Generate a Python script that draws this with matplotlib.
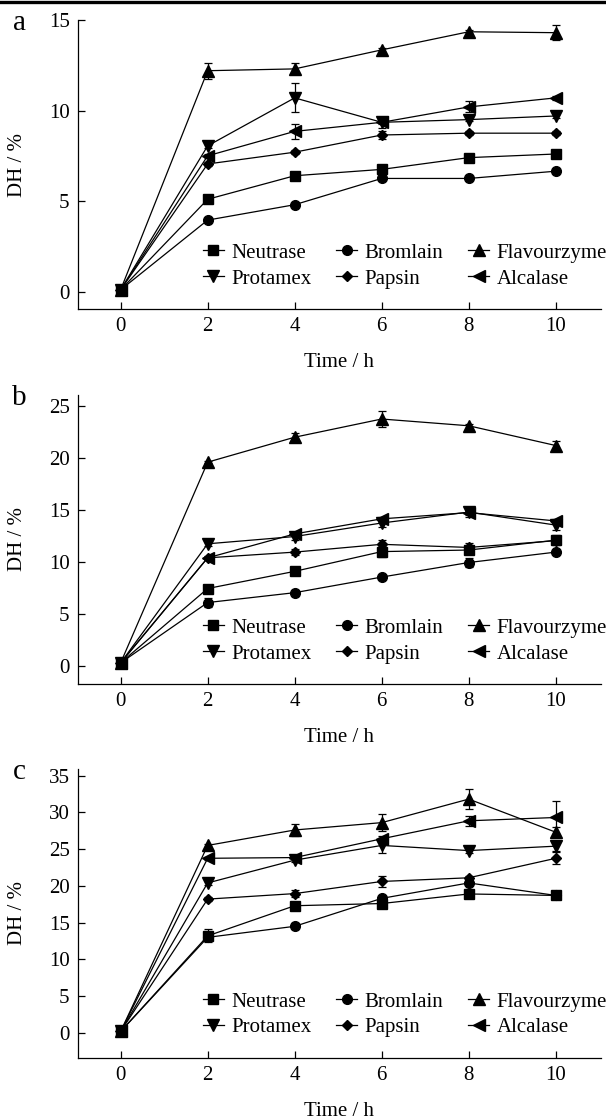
import matplotlib
matplotlib.use('Agg')
import matplotlib.pyplot as plt
from matplotlib.lines import Line2D

plt.rcParams['font.family'] = ['Liberation Serif', 'DejaVu Serif']

time = [0, 2, 4, 6, 8, 10]
enzymes = ['Neutrase', 'Bromlain', 'Flavourzyme', 'Protamex', 'Papsin', 'Alcalase']
markers = {'Neutrase': ('s', 6.5), 'Bromlain': ('o', 7), 'Flavourzyme': ('^', 8),
           'Protamex': ('v', 8), 'Papsin': ('D', 5.5), 'Alcalase': ('<', 8)}

# panel a
dh_a = {
    'Neutrase':    [0.1, 5.1, 6.4, 6.75, 7.4, 7.6],
    'Bromlain':    [0.1, 3.95, 4.8, 6.25, 6.25, 6.65],
    'Flavourzyme': [0.1, 12.2, 12.3, 13.35, 14.35, 14.3],
    'Protamex':    [0.1, 8.05, 10.7, 9.35, 9.5, 9.7],
    'Papsin':      [0.1, 7.05, 7.7, 8.65, 8.75, 8.75],
    'Alcalase':    [0.1, 7.5, 8.85, 9.35, 10.2, 10.7],
}
err_a = {
    'Neutrase':    [0, 0.1, 0.1, 0.1, 0.1, 0.1],
    'Bromlain':    [0, 0.1, 0.1, 0.1, 0.1, 0.1],
    'Flavourzyme': [0, 0.45, 0.3, 0.1, 0.1, 0.4],
    'Protamex':    [0, 0.1, 0.8, 0.3, 0.1, 0.1],
    'Papsin':      [0, 0.1, 0.1, 0.2, 0.1, 0.1],
    'Alcalase':    [0, 0.1, 0.4, 0.1, 0.3, 0.1],
}

# panel b
dh_b = {
    'Neutrase':    [0.3, 7.45, 9.1, 11.0, 11.15, 12.1],
    'Bromlain':    [0.3, 6.1, 7.05, 8.55, 9.95, 10.95],
    'Flavourzyme': [0.3, 19.6, 22.0, 23.75, 23.1, 21.2],
    'Protamex':    [0.3, 11.75, 12.45, 13.75, 14.8, 13.55],
    'Papsin':      [0.3, 10.4, 10.95, 11.7, 11.4, 12.05],
    'Alcalase':    [0.3, 10.4, 12.7, 14.15, 14.75, 13.95],
}
err_b = {
    'Neutrase':    [0, 0.2, 0.3, 0.5, 0.3, 0.5],
    'Bromlain':    [0, 0.4, 0.3, 0.1, 0.4, 0.2],
    'Flavourzyme': [0, 0.1, 0.4, 0.8, 0.2, 0.4],
    'Protamex':    [0, 0.2, 0.3, 0.4, 0.5, 0.5],
    'Papsin':      [0, 0.2, 0.3, 0.4, 0.4, 0.3],
    'Alcalase':    [0, 0.1, 0.2, 0.2, 0.2, 0.2],
}

# panel c
dh_c = {
    'Neutrase':    [0.2, 13.2, 17.3, 17.6, 18.9, 18.7],
    'Bromlain':    [0.2, 13.0, 14.5, 18.3, 20.4, 18.7],
    'Flavourzyme': [0.2, 25.5, 27.6, 28.6, 31.8, 27.3],
    'Protamex':    [0.2, 20.4, 23.5, 25.5, 24.8, 25.4],
    'Papsin':      [0.2, 18.2, 18.95, 20.6, 21.1, 23.75],
    'Alcalase':    [0.2, 23.75, 23.85, 26.4, 28.85, 29.3],
}
err_c = {
    'Neutrase':    [0, 0.9, 0.3, 0.3, 0.5, 0.3],
    'Bromlain':    [0, 0.5, 0.4, 0.3, 0.3, 0.3],
    'Flavourzyme': [0, 0.2, 0.8, 1.2, 1.4, 0.7],
    'Protamex':    [0, 0.3, 0.3, 1.0, 0.3, 0.6],
    'Papsin':      [0, 0.3, 0.5, 0.7, 0.3, 0.8],
    'Alcalase':    [0, 0.2, 0.2, 0.4, 0.7, 2.3],
}

panels = [
    ('a', dh_a, err_a, [0, 5, 10, 15], (-0.96, 15.0), 0.7241),
    ('b', dh_b, err_b, [0, 5, 10, 15, 20, 25], (-1.73, 26.06), 0.3893),
    ('c', dh_c, err_c, [0, 5, 10, 15, 20, 25, 30, 35], (-3.4, 35.9), 0.0554),
]

fs = 15
fig = plt.figure(figsize=(6.06, 11.2), dpi=100)
fig.add_artist(Line2D([0, 1], [1 - 1.5 / 1120] * 2, color='black', lw=2.4,
                      transform=fig.transFigure))

for letter, dh, err, yticks, ylim, bottom in panels:
    ax = fig.add_axes([78 / 606, bottom, 523 / 606, 289 / 1120])
    handles = {}
    for name in enzymes:
        m, ms = markers[name]
        ax.errorbar(time, dh[name], yerr=err[name], fmt='none', ecolor='black',
                    elinewidth=0.9, capsize=3, capthick=0.9)
        line, = ax.plot(time, dh[name], color='black', lw=0.9, marker=m,
                        markersize=ms, label=name)
        handles[name] = line
    ax.set_xlim(-0.98, 11.04)
    ax.set_ylim(*ylim)
    ax.set_xticks(time)
    ax.set_yticks(yticks)
    for s in ['top', 'right']:
        ax.spines[s].set_visible(False)
    for s in ['left', 'bottom']:
        ax.spines[s].set_linewidth(0.9)
    ax.tick_params(direction='in', length=5, width=0.9, labelsize=fs, pad=6)
    ax.set_xlabel('Time / h', fontsize=fs, labelpad=12)
    ax.set_ylabel('DH / %', fontsize=fs)
    ax.yaxis.set_label_coords(-0.097, 0.5)
    ax.text(-0.112, 0.99, letter, transform=ax.transAxes, fontsize=21,
            ha='center', va='center')
    order = ['Neutrase', 'Protamex', 'Bromlain', 'Papsin', 'Flavourzyme', 'Alcalase']
    ax.legend([handles[n] for n in order], order, ncol=3, loc='upper left',
              bbox_to_anchor=(0.239, 0.228), frameon=False, fontsize=fs,
              handlelength=1.0, handletextpad=0.35, columnspacing=1.2,
              labelspacing=0.3, borderpad=0, borderaxespad=0)

plt.savefig('out.png', dpi=100)
